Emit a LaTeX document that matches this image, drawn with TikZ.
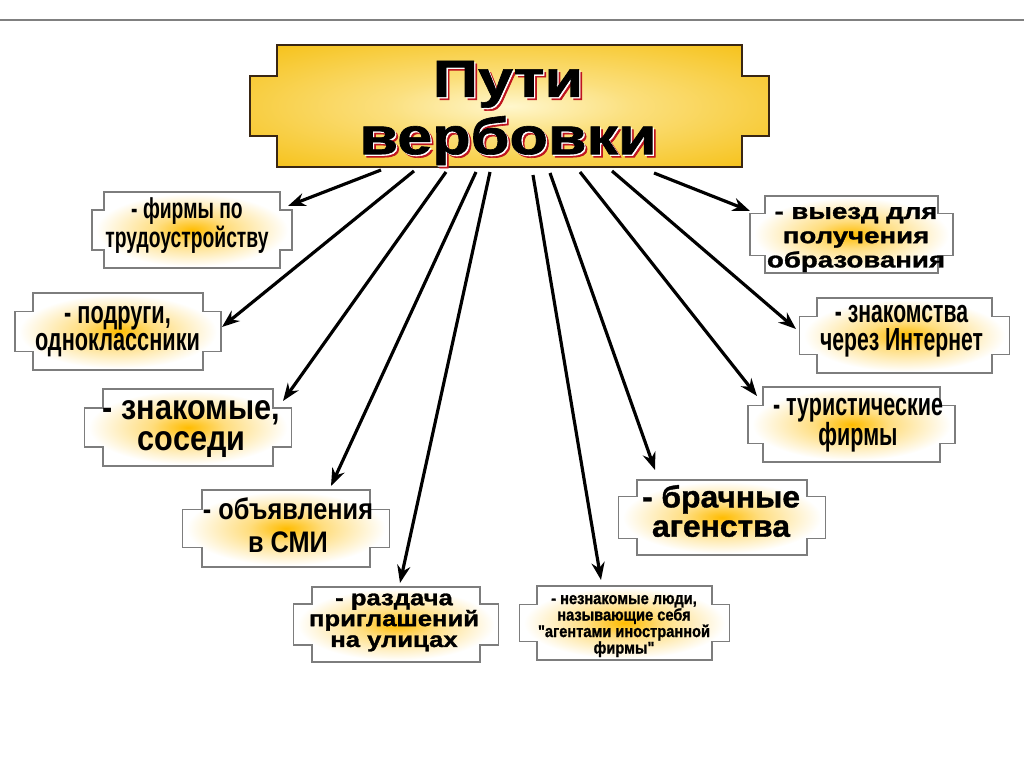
\documentclass[tikz,border=0pt]{standalone}
\usepackage{fontspec}
\usepackage{graphicx}
\setmainfont{Liberation Sans}
\newfontfamily\heavyfont[FakeBold=1.2]{Liberation Sans}
\usetikzlibrary{arrows.meta}

\definecolor{goldc}{RGB}{246,194,26}
\definecolor{paleg}{RGB}{255,247,205}
\colorlet{goldm}{paleg!55!goldc}
\colorlet{goldd}{goldc!88!black}
\definecolor{glowc}{RGB}{255,188,0}
\colorlet{glowm}{glowc!50!white}
\definecolor{edgec}{RGB}{125,125,125}
\definecolor{shadowc}{RGB}{190,20,30}

\pgfdeclareradialshading{glow}{\pgfpoint{0bp}{0bp}}{color(0bp)=(glowc); color(9bp)=(glowm); color(24bp)=(white); color(50bp)=(white)}
\pgfdeclareradialshading{goldglow}{\pgfpoint{0bp}{0bp}}{color(0bp)=(paleg); color(12bp)=(goldm); color(34bp)=(goldc); color(50bp)=(goldd)}

\newlength\pxu \setlength\pxu{0.02cm}
% text block squeezed to w x h pixels, baselines #3 pt apart
\newcommand{\fit}[4]{\resizebox*{#1\pxu}{#2\pxu}{\vbox{\fontsize{10}{#3}\selectfont
  \lineskiplimit=-\maxdimen\let\\\cr\halign{\hfil##\hfil\cr#4\crcr}}}}
% plaque: centre, half width, half height, tab length, tab half height
\newcommand{\plaque}[7]{\shadedraw[#7]
  ({#1-#3},{#2-#4}) -- ({#1+#3},{#2-#4}) -- ({#1+#3},{#2-#6}) -- ({#1+#3+#5},{#2-#6})
  -- ({#1+#3+#5},{#2+#6}) -- ({#1+#3},{#2+#6}) -- ({#1+#3},{#2+#4}) -- ({#1-#3},{#2+#4})
  -- ({#1-#3},{#2+#6}) -- ({#1-#3-#5},{#2+#6}) -- ({#1-#3-#5},{#2-#6}) -- ({#1-#3},{#2-#6}) -- cycle;}

\begin{document}
\begin{tikzpicture}[x=0.02cm,y=-0.02cm,
  plq/.style={shading=glow,draw=edgec,line width=0.6pt},
  ttlplq/.style={shading=goldglow,draw=black!70!brown,line width=0.8pt},
  lbl/.style={inner sep=0pt,font=\bfseries},
  hvy/.style={inner sep=0pt,font=\heavyfont\bfseries},
  arr/.style={-{Stealth[length=10pt,width=7.5pt]},line width=1.8pt}]
  \useasboundingbox (0,0) rectangle (1024,767);
  \fill[white] (0,0) rectangle (1024,767);
  \draw[gray,line width=1pt] (0,20) -- (1024,20);

  % plaques
  \plaque{509.5}{106}{232.5}{61}{27}{30}{ttlplq}
  \foreach \cx/\cy/\w/\h/\e/\t in {192/230/88/38/12/20, 118/331.5/85/38.5/18/20,
      188/427.5/85/38.5/18.5/19.5, 286/528.5/84/38.5/19.5/19, 396/624.5/84/37.5/18.5/20.5,
      624.5/623/87.5/37/17.5/18.5, 722/517.5/85/37.5/18.5/21, 851.5/424.5/88.5/37.5/15/19,
      904.5/335.5/87.5/37.5/17.5/19, 851.5/234.5/86.5/38.5/15/21} {
    \plaque{\cx}{\cy}{\w}{\h}{\e}{\t}{plq}
  }

  % arrows
  \foreach \i/\sx/\sy/\ex/\ey in {1/381/170/288/206, 2/414/171/222/327, 3/446/172/283/401,
      4/476/172/331/486, 5/490/172/400/583, 6/533/175/601/580, 7/550/173/655/470,
      8/580/172/757/396, 9/612/171/796/329, 10/654/173/750/211} {
    \coordinate (s\i) at (\sx,\sy);
    \coordinate (e\i) at (\ex,\ey);
    \draw[arr] (s\i) -- (e\i);
  }

  % title
  \node[hvy,text=shadowc] (ttlred) at (511,116) {\fit{297}{104}{11}{Пути\\вербовки}};
  \node[hvy,text=white] (ttlwhite) at (509.3,114.3) {\fit{297}{104}{11}{Пути\\вербовки}};
  \node[hvy] (title) at (508,113) {\fit{297}{104}{11}{Пути\\вербовки}};

  % labels
  \node[lbl] (firms) at (187,225.5) {\fit{163}{55}{9.8}{- фирмы по\\трудоустройству}};
  \node[lbl] (friends) at (117.5,331.5) {\fit{165}{51}{8.6}{- подруги,\\одноклассники}};
  \node[lbl] (neighbours) at (191.5,429.5) {\fit{177}{57}{8.8}{- знакомые,\\соседи}};
  \node[lbl] (ads) at (288,525.5) {\fit{170}{55}{11.1}{- объявления\\в СМИ}};
  \node[hvy] (streets) at (394,622.5) {\fit{170}{58}{9.6}{- раздача\\приглашений\\на улицах}};
  \node[hvy] (strangers) at (624,626) {\fit{172}{62}{9.8}{- незнакомые люди,\\называющие себя\\"агентами иностранной\\фирмы"}};
  \node[hvy] (marriage) at (721,511) {\fit{158}{52}{9.6}{- брачные\\агенства}};
  \node[lbl] (tour) at (858,425) {\fit{170}{54}{9.4}{- туристические\\фирмы}};
  \node[lbl] (internet) at (901.5,331) {\fit{163}{52}{8.8}{- знакомства\\через Интернет}};
  \node[hvy] (study) at (856,239.5) {\fit{178}{65}{11}{- выезд для\\получения\\образования}};
\end{tikzpicture}
\end{document}
